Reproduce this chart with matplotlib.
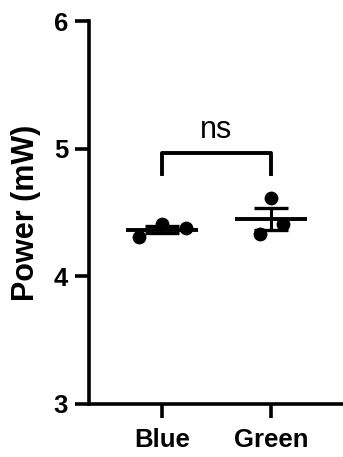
import matplotlib.pyplot as plt
import numpy as np

plt.rcParams['font.family'] = ['Liberation Sans', 'DejaVu Sans']
plt.rcParams['font.weight'] = 'bold'

groups = ['Blue', 'Green']
blue = [4.31, 4.41, 4.38]
green = [4.61, 4.33, 4.41]
blue_x = [-0.21, 0.0, 0.22]
green_x = [0.0, -0.10, 0.11]

fig = plt.figure(figsize=(3.43, 4.57), dpi=100)
ax = fig.add_axes([0.2595, 0.116, 0.7375, 0.838])

for i, (vals, offs) in enumerate([(blue, blue_x), (green, green_x)]):
    vals = np.array(vals)
    m = vals.mean()
    sem = vals.std(ddof=1) / np.sqrt(len(vals))
    ax.scatter(i + np.array(offs), vals, s=80, color='black', zorder=3)
    ax.hlines(m, i - 0.33, i + 0.33, color='black', lw=2.8, zorder=4)
    ax.errorbar(i, m, yerr=sem, color='black', lw=2.2, capsize=12.5, capthick=2.4, zorder=4)

# significance bracket
ax.plot([0, 0, 1, 1], [4.80, 4.97, 4.97, 4.80], color='black', lw=2.8)
ax.text(0.5, 5.03, 'ns', ha='center', va='bottom', fontsize=22, fontweight='normal')

ax.set_xlim(-0.67, 1.65)
ax.set_ylim(3, 6)
ax.set_yticks([3, 4, 5, 6])
ax.set_xticks([0, 1])
ax.set_xticklabels(groups)
ax.set_ylabel('Power (mW)', fontsize=22, fontweight='bold', labelpad=9)
for s in ['top', 'right']:
    ax.spines[s].set_visible(False)
for s in ['left', 'bottom']:
    ax.spines[s].set_linewidth(2.6)
ax.tick_params(width=2.6, length=10, labelsize=18.5, pad=5)
ax.tick_params(axis='x', pad=7)

fig.savefig('out.png', dpi=100)
